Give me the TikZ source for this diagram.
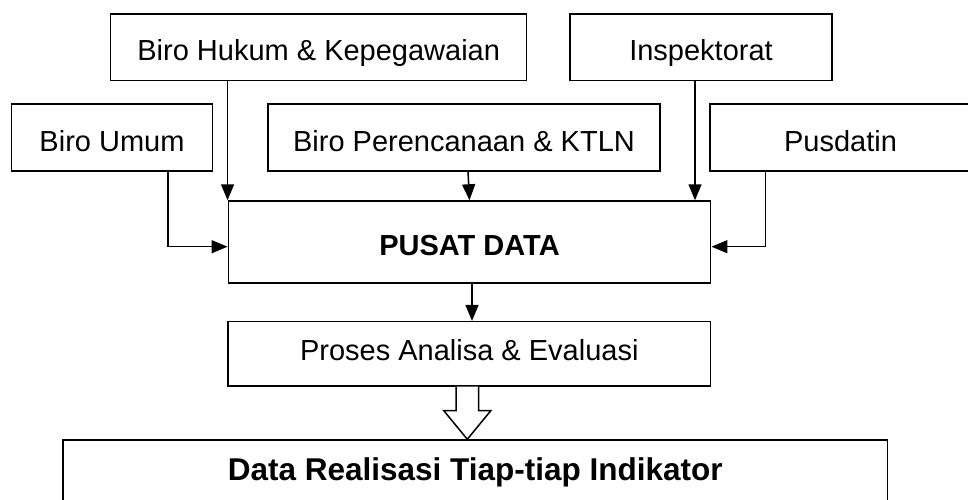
\documentclass[tikz,border=0pt]{standalone}
\usepackage{fontspec}
\setmainfont{Liberation Sans}
\usetikzlibrary{arrows.meta,calc}
\begin{document}
\begin{tikzpicture}[x=1pt,y=-1pt,
  box/.style={draw, line width=1.5pt, rectangle, inner sep=0pt, text height=27pt, text depth=0pt, font=\fontsize{29}{34}\selectfont},
  arr/.style={line width=1.5pt, -{Triangle[length=16pt,width=13pt]}},
  hollow/.style={draw, line width=1.5pt, fill=white, line join=miter}
]
\useasboundingbox (0,0) rectangle (968,500);
\clip (0,0) rectangle (968,500);

\node[box, minimum width=416pt, minimum height=66.7pt] (hukum) at (318.7,47.35) {Biro Hukum \& Kepegawaian};
\node[box, minimum width=262pt, minimum height=66.7pt] (insp) at (701,47.35) {Inspektorat};
\node[box, minimum width=201.4pt, minimum height=67pt] (umum) at (112,137.5) {Biro Umum};
\node[box, minimum width=392pt, minimum height=67pt] (perenc) at (464,137.5) {Biro Perencanaan \& KTLN};
\node[box, minimum width=261pt, minimum height=67pt] (pusdatin) at (840.5,137.5) {Pusdatin};
\node[box, minimum width=482.4pt, minimum height=82pt, font=\fontsize{29}{34}\selectfont\bfseries] (pusat) at (469.5,242) {PUSAT DATA};
\node[box, minimum width=482.5pt, minimum height=64.3pt, text height=14pt] (proses) at (469.3,353.8) {Proses Analisa \& Evaluasi};
\node[box, minimum width=824.3pt, minimum height=80pt, text height=0pt, font=\fontsize{31.5}{36}\selectfont\bfseries] (data) at (475.2,480) {Data Realisasi Tiap-tiap Indikator};

\draw[arr] (hukum.south -| pusat.north west) -- (pusat.north west);
\draw[arr] ([xshift=4pt]perenc.south) -- (pusat.north);
\draw[arr] ([xshift=-6pt]insp.south) -- ([xshift=-6pt]insp.south |- pusat.north);
\draw[arr] ([xshift=56pt]umum.south) |- ([yshift=-4.7pt]pusat.west);
\draw[arr] ([xshift=-75pt]pusdatin.south) |- ([yshift=-4.7pt]pusat.east);
\draw[arr] ([xshift=2.5pt]pusat.south) -- ([xshift=2.5pt]pusat.south |- proses.north);

\coordinate (hs) at ([xshift=-2pt]proses.south);
\coordinate (ht) at (hs |- data.north);
\draw[hollow] ($(hs)+(-11.25,0)$) -- ($(hs)+(-11.25,24)$) -- ($(hs)+(-23.5,24)$) -- (ht)
  -- ($(hs)+(23.5,24)$) -- ($(hs)+(11.25,24)$) -- ($(hs)+(11.25,0)$);
\end{tikzpicture}
\end{document}
